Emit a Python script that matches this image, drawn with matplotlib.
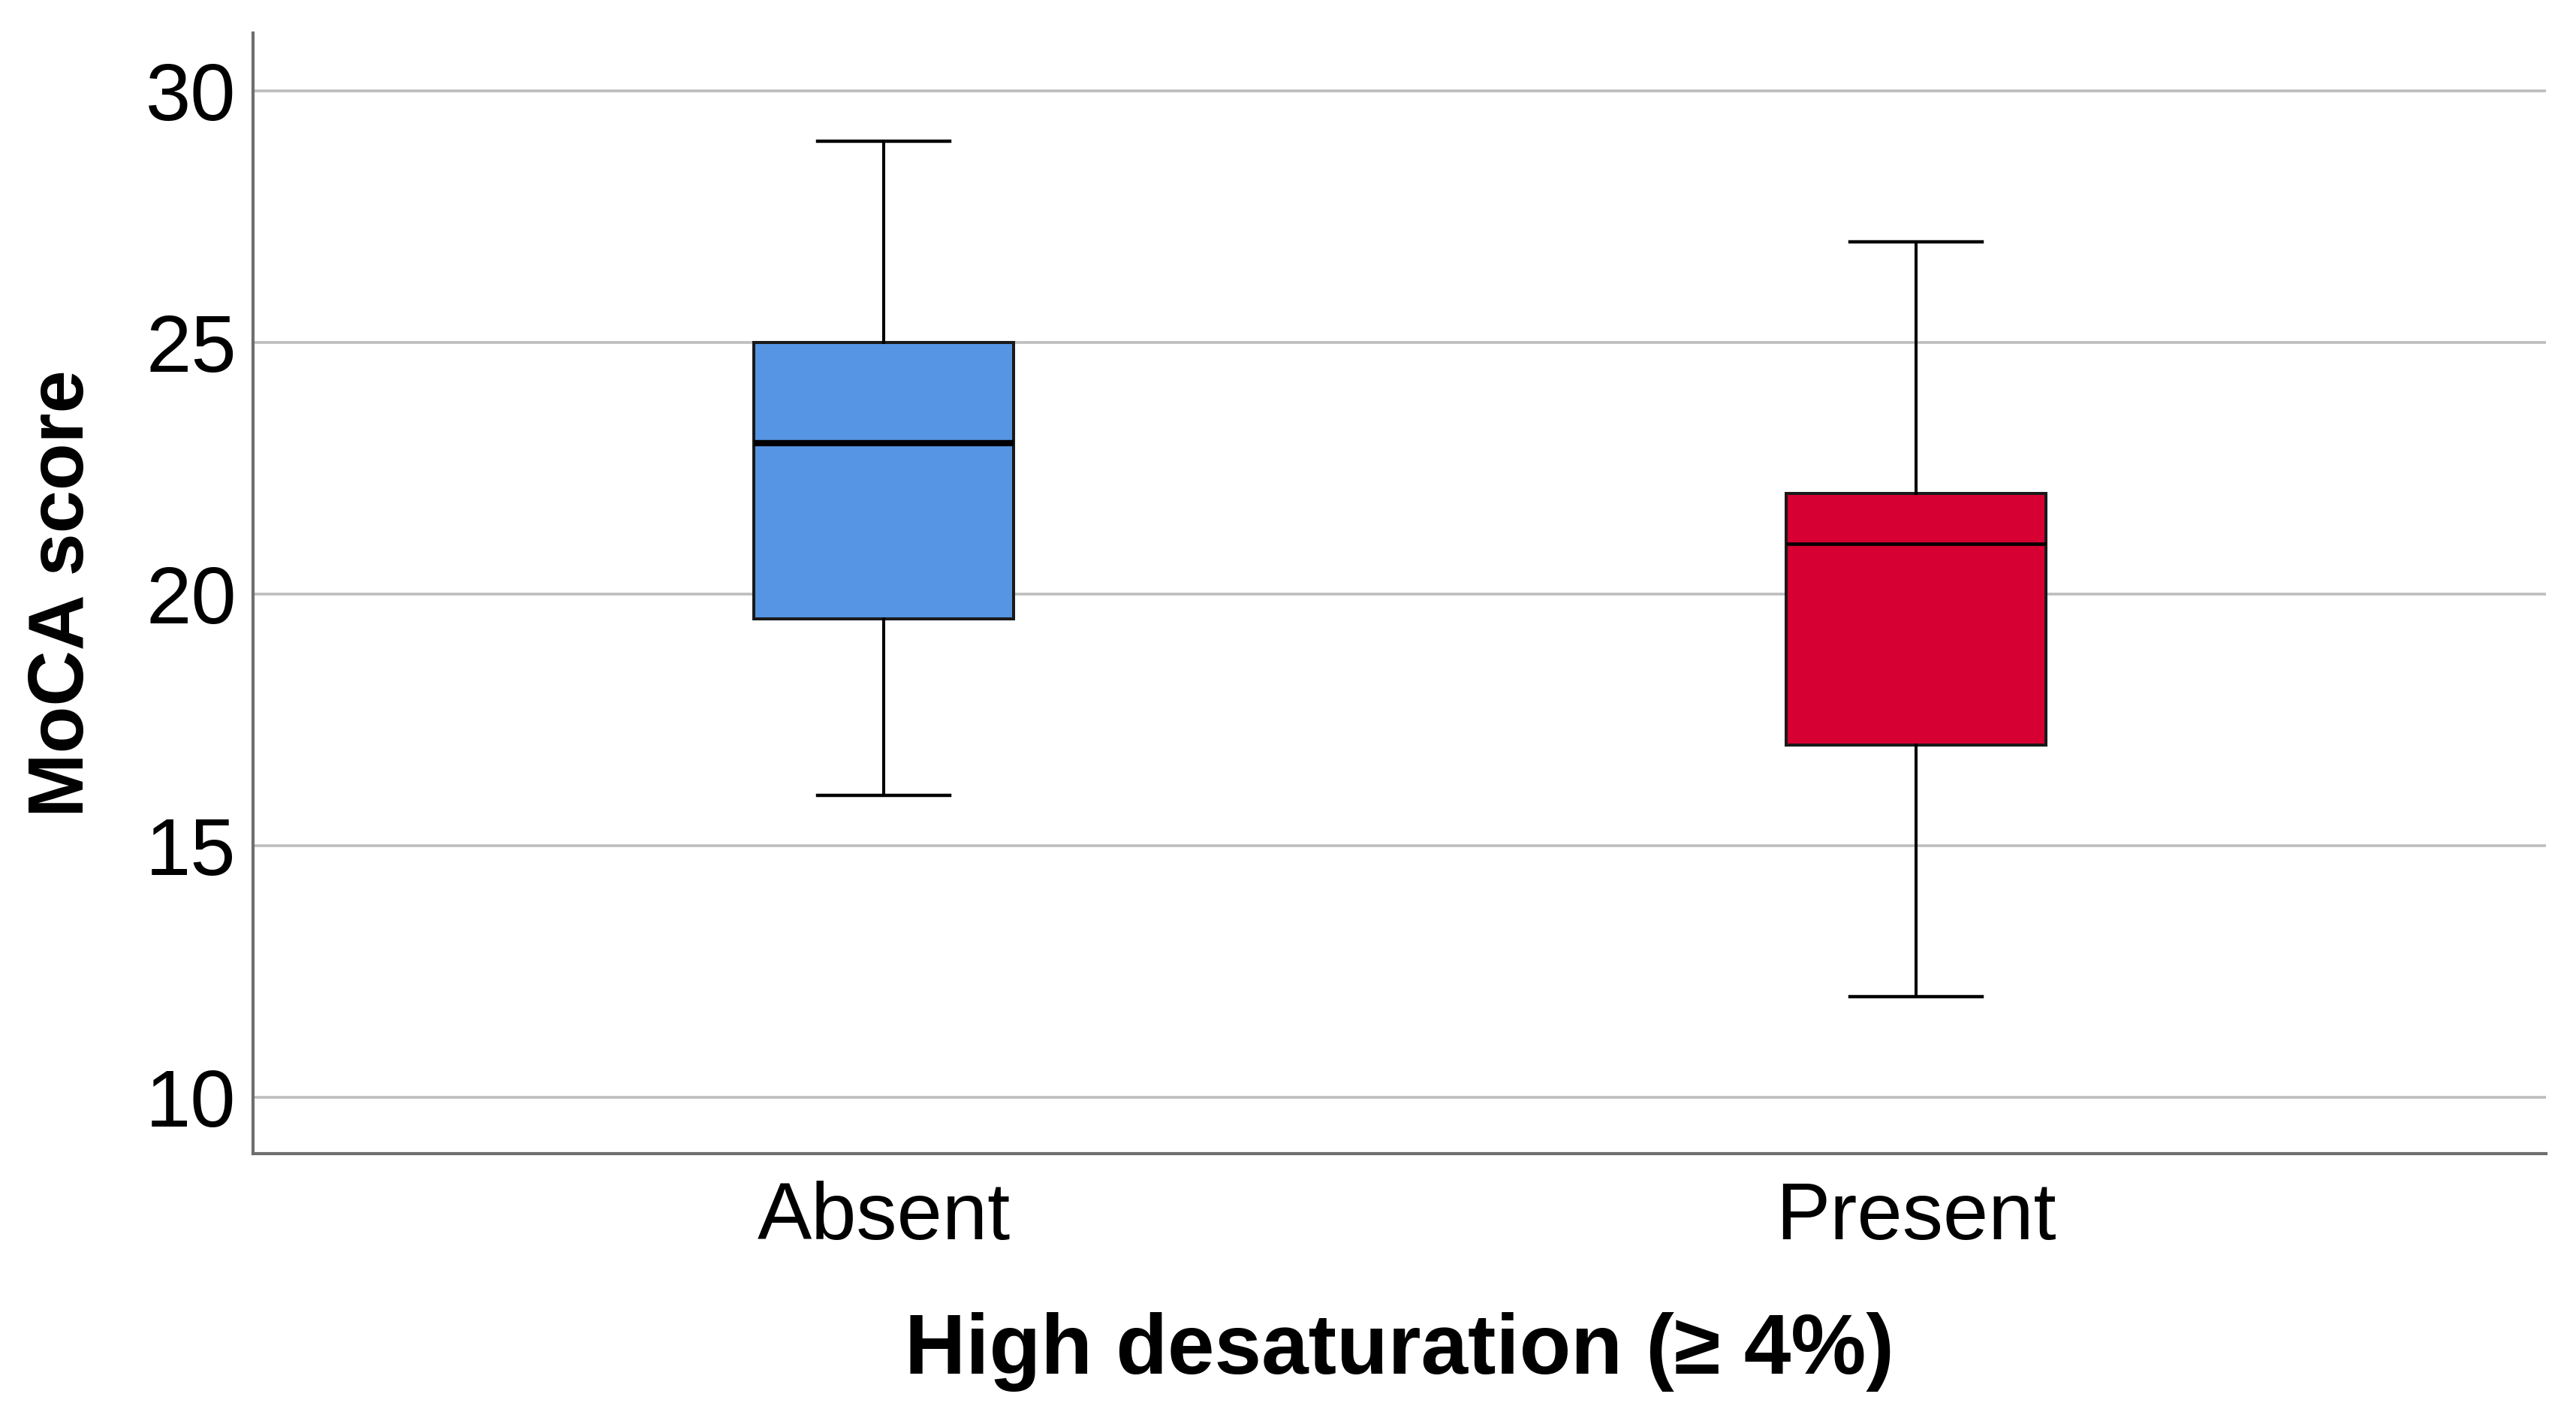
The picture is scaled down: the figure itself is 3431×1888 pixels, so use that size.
import matplotlib
matplotlib.use("Agg")
import matplotlib.pyplot as plt

# ---- data ----
categories = ["Absent", "Present"]
whisker_low = [16, 12]
q1_values = [19.5, 17]
median_values = [23, 21]
q3_values = [25, 22]
whisker_high = [29, 27]
box_colors = ["#5595E3", "#D70032"]
median_widths = [6.0, 3.3]
y_ticks = [10, 15, 20, 25, 30]

plt.rcParams['font.family'] = ['Liberation Sans', 'DejaVu Sans']

fig = plt.figure(figsize=(34.31, 18.88), dpi=100)
ax = fig.add_axes([0.0982, 0.1865, 0.8901, 0.7902])

stats = []
for i, c in enumerate(categories):
    stats.append(dict(label=c, whislo=whisker_low[i], q1=q1_values[i],
                      med=median_values[i], q3=q3_values[i],
                      whishi=whisker_high[i], fliers=[]))

positions = list(range(len(categories)))
bp = ax.bxp(stats, positions=positions, widths=0.252, patch_artist=True,
            showfliers=False, capwidths=0.128, manage_ticks=False,
            boxprops=dict(linewidth=2.9, edgecolor="#1a1a1a"),
            whiskerprops=dict(linewidth=2.9, color="black"),
            capprops=dict(linewidth=3.2, color="black"),
            medianprops=dict(linewidth=3.3, color="black"))
for patch, col in zip(bp['boxes'], box_colors):
    patch.set_facecolor(col)
for med, lw in zip(bp['medians'], median_widths):
    med.set_linewidth(lw)
    med.set_solid_capstyle('butt')

ax.set_xlim(-0.611, 1.610)
ax.set_ylim(8.88, 31.15)
ax.set_yticks(y_ticks)
ax.set_yticklabels([str(t) for t in y_ticks])
ax.set_xticks(positions)
ax.set_xticklabels(categories)

ax.grid(axis='y', color="#BDBDBD", linewidth=2.6)
ax.set_axisbelow(True)

for s in ['top', 'right']:
    ax.spines[s].set_visible(False)
for s in ['left', 'bottom']:
    ax.spines[s].set_color("#6E6E6E")
    ax.spines[s].set_linewidth(3.0)

ax.tick_params(axis='both', length=0, labelsize=78)
ax.tick_params(axis='y', pad=16)
ax.tick_params(axis='x', pad=26)

ax.set_xlabel("High desaturation (\u2265 4%)", fontsize=81, fontweight='bold', labelpad=54)
ax.set_ylabel("MoCA score", fontsize=74, fontweight='bold', labelpad=44)

fig.savefig("out.png", dpi=100, facecolor="white")
